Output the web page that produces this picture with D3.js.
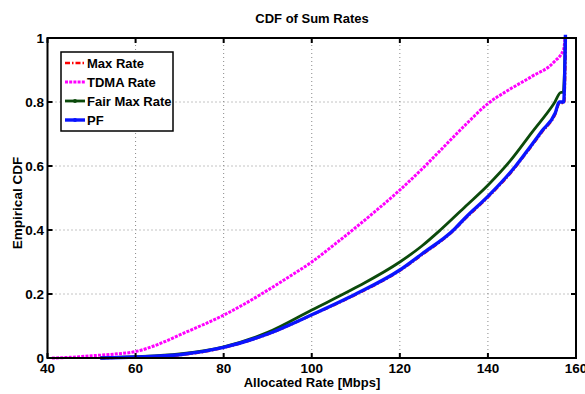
<!DOCTYPE html>
<html>
<head>
<meta charset="utf-8">
<script src="https://cdn.jsdelivr.net/npm/d3@7"></script>
<style>
  body { margin: 0; background: #fff; }
  text { font-family: "Liberation Sans", Arial, sans-serif; font-weight: bold; }
</style>
</head>
<body>
<svg id="chartSVG" width="585" height="394"></svg>
<script>
// values: [rate, cdf]
var maxRate = [[52,0],[60,0.002],[70,0.009],[80,0.032],[90,0.074],[100,0.134],[110,0.198],[120,0.273],[125,0.322],[132.2,0.398],[135,0.437],[140,0.502],[146.3,0.597],[148.8,0.642],[152.3,0.706],[155.3,0.762],[156.3,0.797],[157.3,0.797],[157.7,1]];
var tdmaRate = [[41,0],[45,0.002],[50,0.007],[55,0.012],[60,0.02],[65,0.042],[70,0.072],[75,0.102],[80,0.134],[85,0.171],[90,0.212],[95,0.255],[100,0.3],[105,0.353],[110,0.408],[115,0.465],[120,0.525],[125,0.59],[130,0.66],[135,0.73],[140,0.795],[145,0.84],[150,0.88],[155,0.925],[157.2,0.965],[157.5,1]];
var fairMaxRate = [[52,0],[60,0.004],[70,0.013],[80,0.035],[90,0.08],[100,0.15],[110,0.22],[120,0.3],[125,0.35],[129.2,0.4],[135,0.475],[140,0.54],[145,0.615],[150,0.705],[155,0.795],[156.6,0.83],[157.1,0.83],[157.6,1]];
var pfRate = [[52,0],[60,0.003],[70,0.01],[80,0.033],[90,0.075],[100,0.135],[110,0.2],[120,0.275],[125,0.325],[132.2,0.4],[135,0.44],[140,0.505],[146.3,0.6],[148.8,0.645],[152.3,0.71],[155.3,0.766],[156.2,0.8],[157.2,0.8],[157.6,1.01]];

var xTicks = [40, 60, 80, 100, 120, 140, 160];
var yTicks = [0, 0.2, 0.4, 0.6, 0.8, 1];

var svg = d3.select("#chartSVG"),
    margin = {top: 38, right: 9, bottom: 36, left: 47.5},
    width = svg.attr("width") - margin.left - margin.right,
    height = svg.attr("height") - margin.top - margin.bottom;

var x = d3.scaleLinear().domain([40, 160]).range([margin.left, margin.left + width]),
    y = d3.scaleLinear().domain([0, 1]).range([margin.top + height, margin.top]);

// grid
svg.append("g").selectAll("line").data(xTicks.slice(1, -1)).enter().append("line")
    .attr("x1", function(d) { return x(d); }).attr("x2", function(d) { return x(d); })
    .attr("y1", y(0)).attr("y2", y(1))
    .attr("stroke", "#888").attr("stroke-width", 1).attr("stroke-dasharray", "1,3");
svg.append("g").selectAll("line").data(yTicks.slice(1, -1)).enter().append("line")
    .attr("x1", x(40)).attr("x2", x(160))
    .attr("y1", function(d) { return y(d); }).attr("y2", function(d) { return y(d); })
    .attr("stroke", "#888").attr("stroke-width", 1).attr("stroke-dasharray", "1,3");

var series = [
  {id: "Max Rate", values: maxRate, color: "#ff0000", width: 2.5, dash: "5,2,1.5,2"},
  {id: "TDMA Rate", values: tdmaRate, color: "#ff00ff", width: 3, dash: "3,1.2"},
  {id: "Fair Max Rate", values: fairMaxRate, color: "#0b4a0b", width: 2.8, dash: null},
  {id: "PF", values: pfRate, color: "#0a14ff", width: 3.4, dash: null}
];

var line = d3.line()
    .curve(d3.curveMonotoneX)
    .x(function(d) { return x(d[0]); })
    .y(function(d) { return y(d[1]); });

svg.append("g").selectAll("path").data(series).enter().append("path")
    .attr("d", function(d) { return line(d.values); })
    .attr("fill", "none")
    .attr("stroke", function(d) { return d.color; })
    .attr("stroke-width", function(d) { return d.width; })
    .attr("stroke-dasharray", function(d) { return d.dash; });

// frame
svg.append("rect")
    .attr("x", x(40)).attr("y", y(1))
    .attr("width", x(160) - x(40)).attr("height", y(0) - y(1))
    .attr("fill", "none").attr("stroke", "#000").attr("stroke-width", 2);

// inward ticks on all four sides
var tk = 5;
xTicks.forEach(function(t) {
  svg.append("line").attr("x1", x(t)).attr("x2", x(t)).attr("y1", y(0)).attr("y2", y(0) - tk).attr("stroke", "#000").attr("stroke-width", 2);
  svg.append("line").attr("x1", x(t)).attr("x2", x(t)).attr("y1", y(1)).attr("y2", y(1) + tk).attr("stroke", "#000").attr("stroke-width", 2);
  svg.append("text").attr("x", x(t)).attr("y", 373).attr("text-anchor", "middle")
      .attr("font-size", "13.5px").text(t);
});
yTicks.forEach(function(t) {
  svg.append("line").attr("x1", x(40)).attr("x2", x(40) + tk).attr("y1", y(t)).attr("y2", y(t)).attr("stroke", "#000").attr("stroke-width", 2);
  svg.append("line").attr("x1", x(160)).attr("x2", x(160) - tk).attr("y1", y(t)).attr("y2", y(t)).attr("stroke", "#000").attr("stroke-width", 2);
  svg.append("text").attr("x", 44).attr("y", y(t)).attr("dy", "0.36em").attr("text-anchor", "end")
      .attr("font-size", "13.5px").text(t);
});

// titles
svg.append("text").attr("x", 312).attr("y", 23).attr("text-anchor", "middle")
    .attr("font-size", "13px").text("CDF of Sum Rates");
svg.append("text").attr("x", 312).attr("y", 387).attr("text-anchor", "middle")
    .attr("font-size", "13px").text("Allocated Rate [Mbps]");
svg.append("text").attr("transform", "translate(22,203) rotate(-90)").attr("text-anchor", "middle")
    .attr("font-size", "13.5px").text("Empirical CDF");

// legend
var lg = svg.append("g").attr("transform", "translate(61,52)");
lg.append("rect").attr("width", 112).attr("height", 79)
    .attr("fill", "#fff").attr("stroke", "#000").attr("stroke-width", 1.5);
var items = lg.selectAll(".lser").data(series).enter().append("g")
    .attr("class", "lser")
    .attr("transform", function(d, i) { return "translate(0," + (11 + i * 19) + ")"; });
items.append("line").attr("x1", 4).attr("x2", 24).attr("y1", 0).attr("y2", 0)
    .attr("stroke", function(d) { return d.color; })
    .attr("stroke-width", function(d) { return d.width; })
    .attr("stroke-dasharray", function(d) { return d.dash; });
items.filter(function(d) { return d.dash == null; }).append("circle")
    .attr("cx", 14).attr("cy", 0).attr("r", 2).attr("fill", function(d) { return d.color; });
items.append("text").attr("x", 26).attr("y", 0).attr("dy", "0.36em")
    .attr("font-size", "13px").text(function(d) { return d.id; });
</script>
</body>
</html>
